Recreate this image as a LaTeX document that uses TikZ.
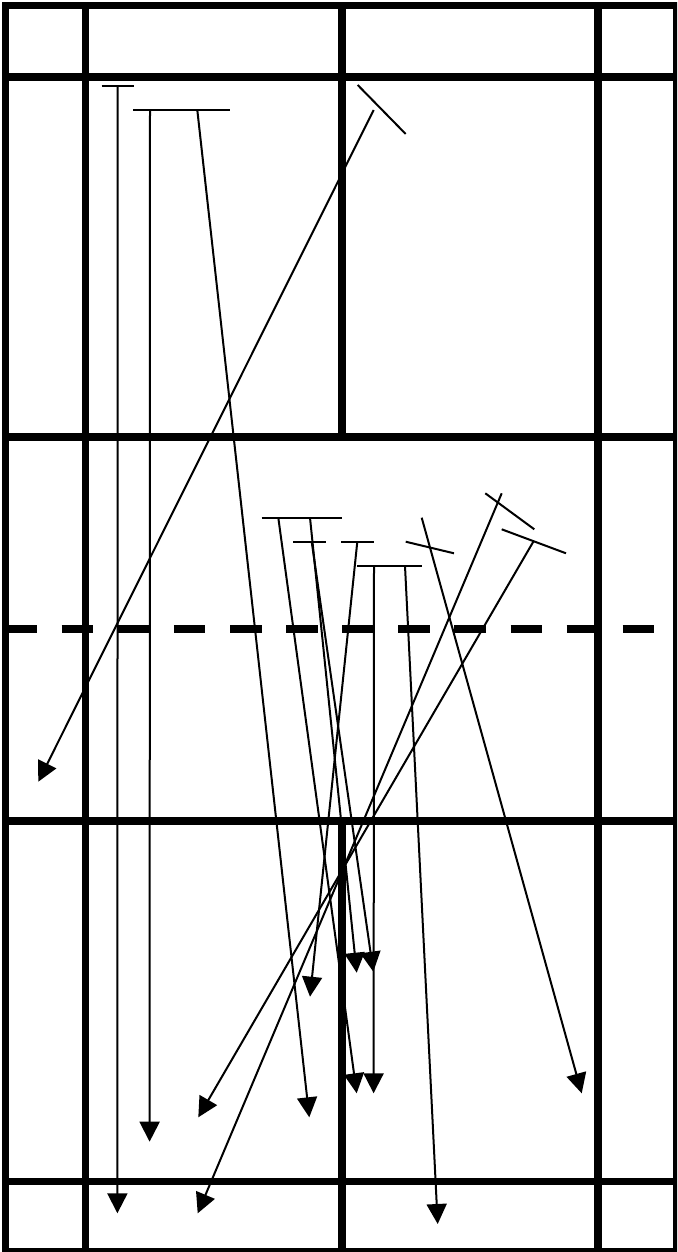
\documentclass[tikz,border=0pt]{standalone}
\usetikzlibrary{arrows.meta}
\tikzset{
  court/.style={line width=7.6pt},
  netline/.style={line width=8.3pt, dash pattern=on 31.5pt off 24.6pt},
  bar/.style={line width=2pt},
  shot/.style={line width=2pt, -{Triangle[length=20pt,width=20pt]}}
}
\begin{document}
\begin{tikzpicture}[x=1pt,y=-1pt]
\useasboundingbox (0,0) rectangle (677,1252);
\fill[white] (0,0) rectangle (677,1252);
\clip (0,0) rectangle (677,1252);
% court
\draw[court] (5.5,5.5) rectangle (677.2,1252.2);
\draw[court] (5.5,77) -- (677,77);
\draw[court] (5.5,437) -- (677,437);
\draw[court] (5.5,821) -- (677,821);
\draw[court] (5.5,1181.5) -- (677,1181.5);
\draw[court] (85.5,5.5) -- (85.5,1252);
\draw[court] (597.7,5.5) -- (597.7,1252);
\draw[court] (342,5.5) -- (342,437);
\draw[court] (342,821) -- (342,1252);
\draw[netline] (5.6,629) -- (655,629);
% start coordinates
\coordinate (s1) at (117.6,85.7);
\coordinate (s2) at (150,110);
\coordinate (s3) at (197.3,110);
\coordinate (s4) at (373.7,110);
\coordinate (s5) at (278.3,517.7);
\coordinate (s6) at (310,517.7);
\coordinate (s7) at (311.7,541.7);
\coordinate (s8) at (357.3,541.7);
\coordinate (s9) at (374,566);
\coordinate (s10) at (405,566);
\coordinate (s11) at (421.7,517.7);
\coordinate (s12) at (501.7,493.3);
\coordinate (s13) at (533.3,541.7);
% end coordinates
\coordinate (e1) at (117.4,1213.3);
\coordinate (e2) at (149.6,1141.7);
\coordinate (e3) at (309.3,1117.3);
\coordinate (e4) at (38.3,781.7);
\coordinate (e5) at (356.7,1093.3);
\coordinate (e6) at (356.7,972.7);
\coordinate (e7) at (373.3,971.7);
\coordinate (e8) at (310,996.7);
\coordinate (e9) at (373.6,1093.3);
\coordinate (e10) at (437.7,1224);
\coordinate (e11) at (581.7,1093.3);
\coordinate (e12) at (197.7,1213.3);
\coordinate (e13) at (198.3,1117.3);
% bars
\coordinate (b1a) at (101.7,85.7); \coordinate (b1b) at (134.3,85.7);
\coordinate (b2a) at (133,110); \coordinate (b2b) at (230,110);
\coordinate (b3a) at (357.7,85); \coordinate (b3b) at (405.7,134);
\coordinate (b4a) at (261.7,517.7); \coordinate (b4b) at (342.3,517.7);
\coordinate (b5a) at (293.3,541.7); \coordinate (b5b) at (326,541.7);
\coordinate (b6a) at (341,541.7); \coordinate (b6b) at (374.3,541.7);
\coordinate (b7a) at (357.3,566); \coordinate (b7b) at (422.3,566);
\coordinate (b8a) at (405.7,541.7); \coordinate (b8b) at (454,553.3);
\coordinate (b9a) at (485.3,493.3); \coordinate (b9b) at (534.3,529.3);
\coordinate (b10a) at (501.7,529.3); \coordinate (b10b) at (566,553.3);
\foreach \i in {1,...,10} {\draw[bar] (b\i a) -- (b\i b);}
\foreach \i in {1,...,13} {\draw[shot] (s\i) -- (e\i);}
\end{tikzpicture}
\end{document}
